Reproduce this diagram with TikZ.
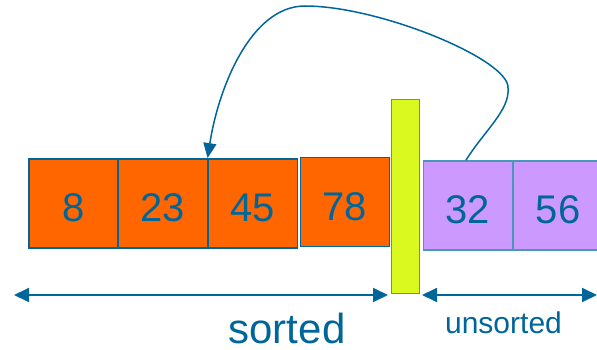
\documentclass[tikz,border=0pt]{standalone}
\usepackage{fontspec}
\setmainfont{Liberation Sans}
\usetikzlibrary{arrows.meta}
\definecolor{inkblue}{HTML}{006699}
\definecolor{edgeblue}{HTML}{4A98B8}
\definecolor{sortedfill}{HTML}{FF6600}
\definecolor{unsortedfill}{HTML}{CC99FF}
\definecolor{wallfill}{HTML}{DAF91F}
\tikzset{
  cell/.style={draw=inkblue, line width=1.8pt, fill=sortedfill, inner sep=0pt,
    minimum width=89pt, minimum height=89pt, text=inkblue,
    text height=36pt, text depth=0pt,
    font=\fontsize{40}{40}\selectfont},
  opencell/.style={cell, draw=edgeblue, fill=unsortedfill},
  wall/.style={draw=edgeblue, line width=1.5pt, fill=wallfill, inner sep=0pt,
    minimum width=28pt, minimum height=194pt},
  span/.style={draw=inkblue, line width=1.8pt,
    {Triangle[length=15pt,width=14pt]}-{Triangle[length=15pt,width=14pt]}},
  move/.style={draw=inkblue, line width=1.5pt, -{Triangle[length=15pt,width=13pt]}},
  caption/.style={text=inkblue, inner sep=0pt, anchor=base, text depth=0pt}
}
\begin{document}
\begin{tikzpicture}[x=1pt,y=-1pt]
\useasboundingbox (0,0) rectangle (597,350);
% sorted part
\node[cell] (c8)  at (73.5,203.5) {8};
\node[cell] (c23) at (163,203.5) {23};
\node[cell] (c45) at (253,203.5) {45};
\node[cell] (c78) at (345,202) {78};
% divider
\node[wall] (bar) at (405.5,196.5) {};
% unsorted part
\node[opencell] (c32) at (468,205.5) {32};
\node[opencell] (c56) at (558,205.5) {56};
% range arrows
\coordinate (sl) at (14,295);
\coordinate (sr) at (388,295);
\coordinate (ul) at (422,295);
\coordinate (ur) at (597,295);
\draw[span] (sl) -- (sr);
\draw[span] (ul) -- (ur);
\node[caption, font=\fontsize{42}{42}\selectfont] (lsorted) at (287,343) {sorted};
\node[caption, font=\fontsize{30}{30}\selectfont] (lunsorted) at (503.5,333) {unsorted};
% insertion move
\draw[move] ([xshift=-2pt]c32.north) .. controls (485,130) and (510,110) .. (508,88)
  .. controls (510,60) and (380,6) .. (305,6)
  .. controls (250,6) and (218,90) .. (c45.north west);
\end{tikzpicture}
\end{document}
